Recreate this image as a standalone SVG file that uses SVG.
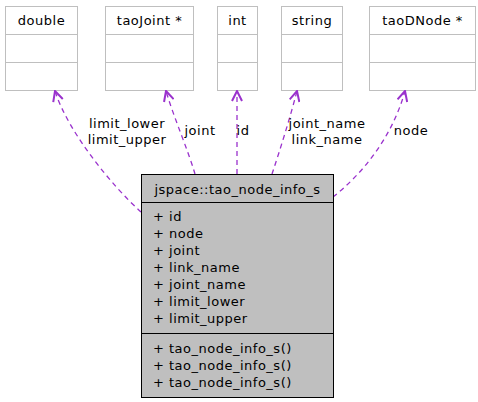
<svg xmlns="http://www.w3.org/2000/svg" width="478" height="402" viewBox="0 0 478 402">
<defs>
<style>
text{font-family:"DejaVu Sans",sans-serif;font-size:13px;letter-spacing:0.5px;fill:#000}
.ext rect{fill:#fff;stroke:#bfbfbf;stroke-width:1}
.ext line{stroke:#bfbfbf;stroke-width:1}
.main rect{fill:#bfbfbf;stroke:#000;stroke-width:1}
.main line{stroke:#000;stroke-width:1}
.edge{fill:none;stroke:#9a32cd;stroke-width:1.3;stroke-dasharray:5,4}
.mid{text-anchor:middle}
</style>
<marker id="arr" viewBox="0 0 12 12" refX="11" refY="6" markerWidth="12" markerHeight="12" markerUnits="userSpaceOnUse" orient="auto">
<path d="M1,1 L11,6 L1,11" fill="none" stroke="#9a32cd" stroke-width="2"/>
</marker>
</defs>
<rect width="478" height="402" fill="#fff"/>
<g id="node-double" class="ext">
<rect x="5.5" y="6.5" width="72" height="84"/>
<line x1="5.5" y1="34.5" x2="77.5" y2="34.5"/>
<line x1="5.5" y1="62.5" x2="77.5" y2="62.5"/>
<text x="41.5" y="25" class="mid">double</text>
</g>
<g id="node-taoJoint" class="ext">
<rect x="105.5" y="6.5" width="88" height="84"/>
<line x1="105.5" y1="34.5" x2="193.5" y2="34.5"/>
<line x1="105.5" y1="62.5" x2="193.5" y2="62.5"/>
<text x="149.5" y="25" class="mid">taoJoint *</text>
</g>
<g id="node-int" class="ext">
<rect x="217.5" y="6.5" width="40" height="84"/>
<line x1="217.5" y1="34.5" x2="257.5" y2="34.5"/>
<line x1="217.5" y1="62.5" x2="257.5" y2="62.5"/>
<text x="237.5" y="25" class="mid">int</text>
</g>
<g id="node-string" class="ext">
<rect x="281.5" y="6.5" width="61" height="84"/>
<line x1="281.5" y1="34.5" x2="342.5" y2="34.5"/>
<line x1="281.5" y1="62.5" x2="342.5" y2="62.5"/>
<text x="312" y="25" class="mid">string</text>
</g>
<g id="node-taoDNode" class="ext">
<rect x="369.5" y="6.5" width="106" height="84"/>
<line x1="369.5" y1="34.5" x2="475.5" y2="34.5"/>
<line x1="369.5" y1="62.5" x2="475.5" y2="62.5"/>
<text x="422.5" y="25" class="mid">taoDNode *</text>
</g>
<g id="connectors">
<path class="edge" d="M141,212 C112,186 68,132 55,91" marker-end="url(#arr)"/>
<path class="edge" d="M195,174 C188,150 174,118 166,91" marker-end="url(#arr)"/>
<path class="edge" d="M237,174 L237,91" marker-end="url(#arr)"/>
<path class="edge" d="M272,174 C280,150 290,118 297,91" marker-end="url(#arr)"/>
<path class="edge" d="M333,197 C362,174 392,138 405,91" marker-end="url(#arr)"/>
<text x="127" y="128" class="mid">limit_lower</text>
<text x="127" y="144" class="mid">limit_upper</text>
<text x="200" y="135" class="mid">joint</text>
<text x="243" y="135" class="mid">id</text>
<text x="327" y="128" class="mid">joint_name</text>
<text x="327" y="144" class="mid">link_name</text>
<text x="411" y="135" class="mid">node</text>
</g>
<g id="node-main" class="main">
<rect x="141.5" y="174.5" width="192" height="223"/>
<line x1="141.5" y1="202.5" x2="333.5" y2="202.5"/>
<line x1="141.5" y1="333.5" x2="333.5" y2="333.5"/>
<text x="237.5" y="194" class="mid">jspace::tao_node_info_s</text>
<text x="153" y="221">+ id</text>
<text x="153" y="238">+ node</text>
<text x="153" y="255">+ joint</text>
<text x="153" y="272">+ link_name</text>
<text x="153" y="289">+ joint_name</text>
<text x="153" y="306">+ limit_lower</text>
<text x="153" y="323">+ limit_upper</text>
<text x="153" y="353">+ tao_node_info_s()</text>
<text x="153" y="370">+ tao_node_info_s()</text>
<text x="153" y="387">+ tao_node_info_s()</text>
</g>
</svg>
